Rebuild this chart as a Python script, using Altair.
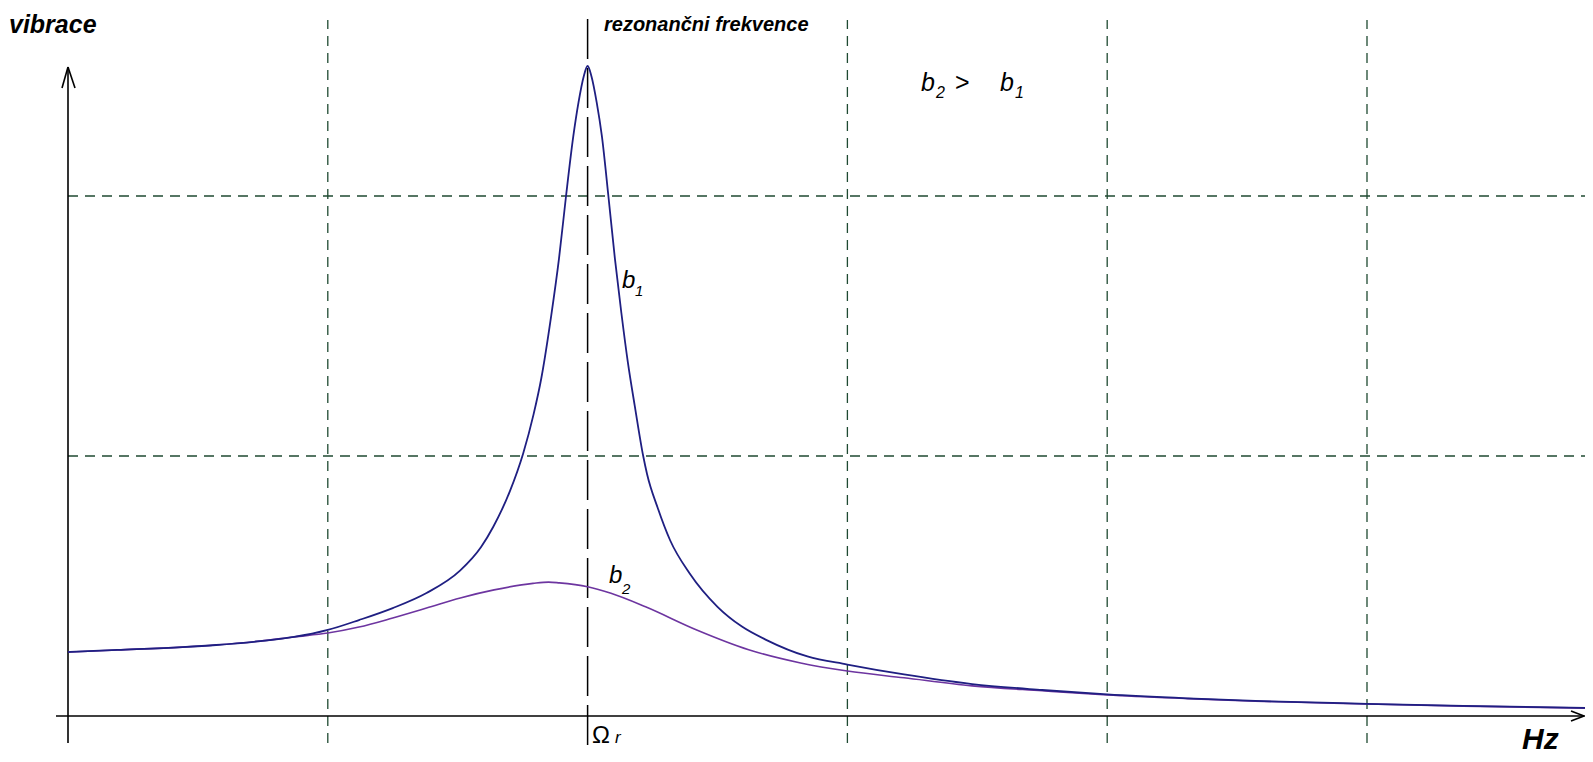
import altair as alt
import pandas as pd

# ---- data (x in grid units, y in grid units) ----
b1_x = [0.0, 0.19, 0.44, 0.57, 0.74, 0.87, 1.0, 1.12, 1.25, 1.38, 1.51, 1.59, 1.637, 1.701,
        1.752, 1.792, 1.822, 1.86, 1.89, 1.917, 1.945, 1.965, 1.985, 2.0,
        2.015, 2.035, 2.055, 2.08, 2.105, 2.13, 2.155, 2.182, 2.214,
        2.229, 2.27, 2.318, 2.393, 2.50, 2.594, 2.687, 2.846, 3.0, 3.218, 3.48, 3.75, 4.0,
        4.31, 4.57, 5.0, 5.37, 5.87]
b1_y = [0.246, 0.254, 0.265, 0.273, 0.288, 0.304, 0.331, 0.369, 0.415, 0.473, 0.56, 0.65, 0.728, 0.865,
        1.01, 1.16, 1.30, 1.54, 1.76, 2.0, 2.23, 2.36, 2.46, 2.50,
        2.46, 2.36, 2.23, 2.0, 1.76, 1.55, 1.36, 1.19, 1.0,
        0.93, 0.80, 0.675, 0.548, 0.42, 0.344, 0.293, 0.229, 0.198, 0.160, 0.123, 0.100, 0.083,
        0.068, 0.058, 0.047, 0.039, 0.031]

b2_x = [0.0, 0.19, 0.44, 0.57, 0.74, 0.87, 1.0, 1.12, 1.25, 1.38, 1.51, 1.64, 1.79, 1.85, 1.891,
        2.0, 2.09, 2.223, 2.42, 2.62, 2.82, 3.0, 3.218, 3.48, 3.75, 4.0, 4.31, 4.57, 5.0, 5.37, 5.87]
b2_y = [0.246, 0.254, 0.265, 0.273, 0.288, 0.304, 0.319, 0.342, 0.377, 0.415, 0.454, 0.485, 0.51, 0.515, 0.512,
        0.497, 0.472, 0.42, 0.331, 0.255, 0.204, 0.173, 0.147, 0.116, 0.097, 0.081, 0.067, 0.057, 0.046, 0.038, 0.030]

grid_x = [1, 3, 4, 5]
grid_y = [1, 2]
resonance_x = 2

# ---- page pixel -> data unit helpers (for annotations / frame) ----
def X(px):
    return (px - 68) / 259.8

def Y(py):
    return (716 - py) / 260

W, H = 1577, 746
xs = alt.Scale(domain=[X(8), X(8 + W)], nice=False, zero=False)
ys = alt.Scale(domain=[Y(8 + H), Y(8)], nice=False, zero=False)

FONT = "Liberation Sans"


def enc_xy(ch):
    return ch.encode(
        x=alt.X("x:Q", scale=xs, axis=None),
        y=alt.Y("y:Q", scale=ys, axis=None),
    )


def rules(df, color, width, dash=None):
    kw = dict(color=color, strokeWidth=width)
    if dash:
        kw["strokeDash"] = dash
    return alt.Chart(df).mark_rule(**kw).encode(
        x=alt.X("x:Q", scale=xs, axis=None),
        x2="x2:Q",
        y=alt.Y("y:Q", scale=ys, axis=None),
        y2="y2:Q",
    )


def text(s, px, py, size, weight="normal", style="normal", color="black"):
    df = pd.DataFrame({"x": [X(px)], "y": [Y(py)], "t": [s]})
    return alt.Chart(df).mark_text(
        text=s, font=FONT, fontSize=size, fontWeight=weight, fontStyle=style,
        align="left", baseline="alphabetic", color=color,
    ).encode(
        x=alt.X("x:Q", scale=xs, axis=None),
        y=alt.Y("y:Q", scale=ys, axis=None),
    )


GRID_COLOR = "#1f4a32"

vgrid = pd.DataFrame({"x": grid_x, "x2": grid_x,
                      "y": [Y(743)] * len(grid_x), "y2": [Y(20)] * len(grid_x)})
hgrid = pd.DataFrame({"x": [0.0] * len(grid_y), "x2": [X(8 + W)] * len(grid_y),
                      "y": grid_y, "y2": grid_y})
res = pd.DataFrame({"x": [resonance_x], "x2": [resonance_x], "y": [Y(745)], "y2": [Y(10)]})

axes = pd.DataFrame({
    "x":  [X(56), 0.0, 0.0, 0.0, X(1584), X(1584)],
    "x2": [X(8 + W), 0.0, X(62), X(75), X(1571), X(1571)],
    "y":  [0.0, Y(743), Y(67), Y(67), 0.0, 0.0],
    "y2": [0.0, Y(67), Y(88), Y(88), Y(711), Y(721)],
})

df_b1 = pd.DataFrame({"x": b1_x, "y": b1_y})
df_b2 = pd.DataFrame({"x": b2_x, "y": b2_y})

line_b2 = enc_xy(alt.Chart(df_b2).mark_line(color="#6d35a0", strokeWidth=1.6, interpolate="monotone"))
line_b1 = enc_xy(alt.Chart(df_b1).mark_line(color="#1f1f82", strokeWidth=1.8, interpolate="monotone"))

layers = [
    rules(hgrid, GRID_COLOR, 1.3, [10, 7]),
    rules(vgrid, GRID_COLOR, 1.3, [10, 7]),
    rules(res, "black", 1.5, [40, 9]),
    rules(axes, "black", 1.6),
    line_b2,
    line_b1,
    text("vibrace", 9, 33, 25, "bold", "italic"),
    text("rezonančni frekvence", 604, 31, 20, "bold", "italic"),
    text("b", 921, 91, 25, "normal", "italic"),
    text("2", 936, 98, 16, "normal", "italic"),
    text(">", 955, 91, 25, "normal", "normal"),
    text("b", 1000, 91, 25, "normal", "italic"),
    text("1", 1015, 98, 16, "normal", "italic"),
    text("b", 622, 288, 24, "normal", "italic"),
    text("1", 635, 296, 15, "normal", "italic"),
    text("b", 609, 583, 24, "normal", "italic"),
    text("2", 622, 594, 15, "normal", "italic"),
    text("Ω", 592, 743, 24, "normal", "normal"),
    text("r", 615, 743, 17, "normal", "italic"),
    text("Hz", 1522, 749, 30, "bold", "italic"),
]

chart = alt.layer(*layers).properties(
    width=W, height=H, padding=0, autosize=alt.AutoSizeParams(type="none"),
    background="white",
).configure_view(stroke=None)

chart.save("out.html", embed_options={"renderer": "svg", "actions": False})
